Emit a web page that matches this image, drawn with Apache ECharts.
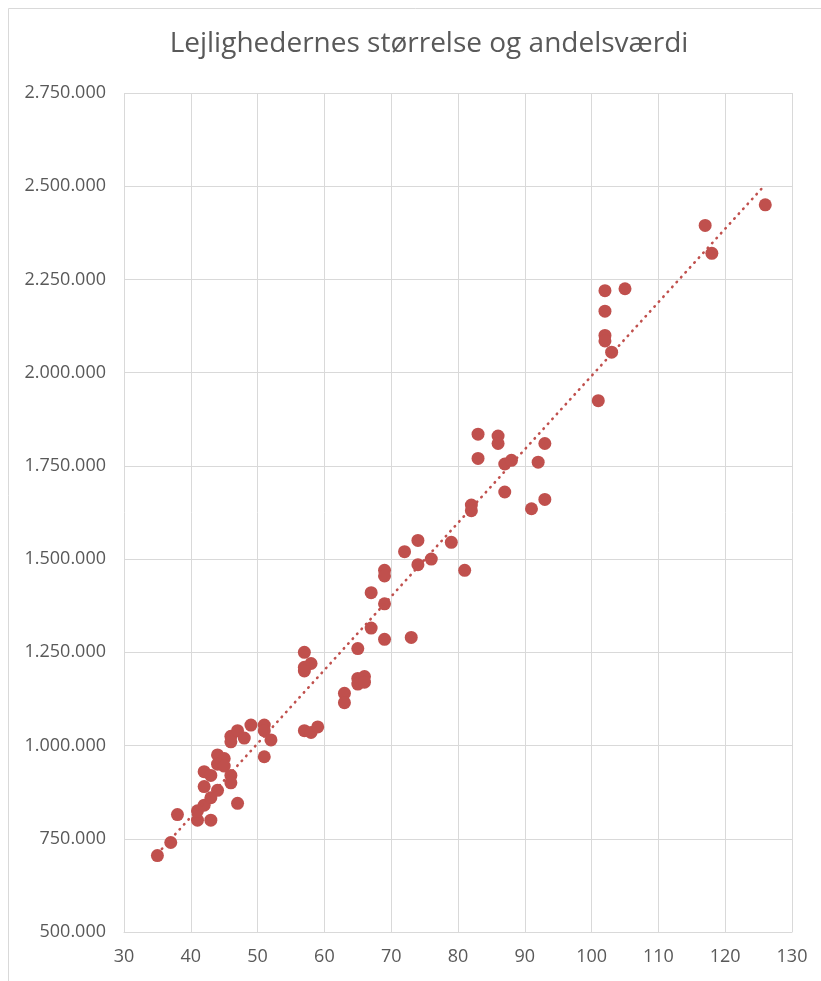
<!DOCTYPE html>
<html>
<head>
<meta charset="utf-8">
<script src="https://cdn.jsdelivr.net/npm/echarts@6/dist/echarts.min.js"></script>
<style>
html,body{margin:0;padding:0;background:#fff;}
#chart{width:821px;height:981px;}
</style>
</head>
<body>
<div id="chart"></div>
<script>
const titleText = 'Lejlighedernes størrelse og andelsværdi';
const sizes = [35,37,38,41,43,41,42,42,44,43,42,43,44,45,44,45,46,46,47,51,46,47,48,49,51,51,52,46,57,57,58,57,57,58,59,63,63,65,66,65,66,65,67,69,73,67,69,69,69,72,74,74,76,79,81,83,86,86,83,87,88,93,92,87,82,82,93,91,102,105,102,102,102,103,101,117,118,126];
const values = [705000,740000,815000,800000,800000,825000,840000,890000,880000,860000,930000,920000,975000,965000,950000,945000,920000,900000,845000,970000,1025000,1040000,1020000,1055000,1055000,1040000,1015000,1010000,1040000,1250000,1220000,1210000,1200000,1035000,1050000,1140000,1115000,1180000,1185000,1165000,1170000,1260000,1315000,1285000,1290000,1410000,1380000,1470000,1455000,1520000,1550000,1485000,1500000,1545000,1470000,1835000,1830000,1810000,1770000,1755000,1765000,1810000,1760000,1680000,1645000,1630000,1660000,1635000,2220000,2225000,2165000,2100000,2085000,2055000,1925000,2395000,2320000,2450000];
const xTicks = {min:30, max:130, interval:10};
const yTicks = {min:500000, max:2750000, interval:250000};

const points = sizes.map((s,i)=>[s, values[i]]);
// linear trendline (least squares) from the data
const n = points.length;
let sx=0, sy=0, sxx=0, sxy=0;
points.forEach(([x,y])=>{sx+=x; sy+=y; sxx+=x*x; sxy+=x*y;});
const slope = (n*sxy - sx*sy)/(n*sxx - sx*sx);
const icpt = (sy - slope*sx)/n;
const xmin = Math.min(...sizes), xmax = Math.max(...sizes);
const trend = [[xmin, icpt+slope*xmin],[xmax, icpt+slope*xmax]];

const fmt = v => String(v).replace(/\B(?=(\d{3})+(?!\d))/g, '.');
const labelColor = '#595959';
const gridColor = '#d9d9d9';
const red = '#c0504d';

const chart = echarts.init(document.getElementById('chart'));
chart.setOption({
  animation:false,
  backgroundColor:'#fff',
  title:{text:titleText, left:424, textAlign:'center', top:25,
    textStyle:{fontFamily:'Open Sans', fontSize:28, fontWeight:'normal', color:labelColor}},
  graphic:[{type:'rect', shape:{x:8.5,y:8.5,width:830,height:990}, style:{fill:'none', stroke:gridColor, lineWidth:1}, silent:true}],
  grid:{left:124, right:29, top:93, bottom:49, containLabel:false},
  xAxis:{type:'value', min:xTicks.min, max:xTicks.max, interval:xTicks.interval,
    axisLine:{show:true, lineStyle:{color:gridColor, width:1}},
    axisTick:{show:false},
    splitLine:{show:true, lineStyle:{color:gridColor, width:1}},
    axisLabel:{color:labelColor, fontFamily:'Open Sans', fontSize:18, margin:16}},
  yAxis:{type:'value', min:yTicks.min, max:yTicks.max, interval:yTicks.interval,
    axisLine:{show:false}, axisTick:{show:false},
    splitLine:{show:true, lineStyle:{color:gridColor, width:1}},
    axisLabel:{color:labelColor, fontFamily:'Open Sans', fontSize:18, margin:18, formatter:fmt}},
  series:[
    {type:'line', data:trend, symbol:'none', silent:true, z:3,
      lineStyle:{color:red, width:2.6, type:[0.5,6.1], cap:'round'}},
    {type:'scatter', data:points, symbol:'circle', symbolSize:13, z:2,
      itemStyle:{color:red, opacity:1}}
  ]
});
</script>
</body>
</html>
